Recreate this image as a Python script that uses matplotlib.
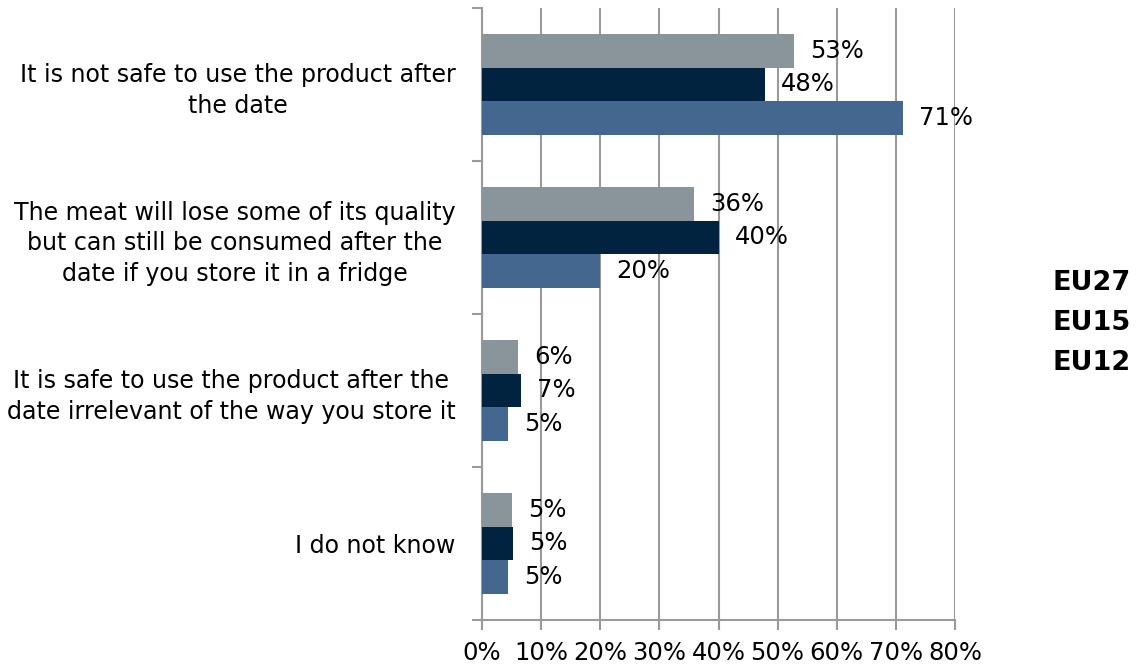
import matplotlib
matplotlib.use("Agg")
import matplotlib.pyplot as plt
import numpy as np
from matplotlib.ticker import FixedLocator, PercentFormatter

categories = [
    "It is not safe to use the product after\nthe date",
    "The meat will lose some of its quality\nbut can still be consumed after the\ndate if you store it in a fridge",
    "It is safe to use the product after the\ndate irrelevant of the way you store it",
    "I do not know",
]
series_names = ["EU27", "EU15", "EU12"]
eu27 = [52.8, 35.9, 6.1, 5.1]
eu15 = [47.9, 40.1, 6.6, 5.2]
eu12 = [71.2, 20.0, 4.4, 4.4]
value_labels = [
    ["53%", "36%", "6%", "5%"],
    ["48%", "40%", "7%", "5%"],
    ["71%", "20%", "5%", "5%"],
]
x_ticks = [0, 10, 20, 30, 40, 50, 60, 70, 80]

colors = ["#89959A", "#01233F", "#43678E"]
grid_color = "#9A9A9A"
fs = 17.5

plt.rcParams["font.family"] = ["DejaVu Sans"]

fig = plt.figure(figsize=(11.36, 6.65), dpi=100)
ax = fig.add_axes([482 / 1136, 1 - 620 / 665, (955 - 482) / 1136, (620 - 8) / 665])

y = np.arange(len(categories))
h = 0.219
series = [eu27, eu15, eu12]
for i, (vals, col) in enumerate(zip(series, colors)):
    bars = ax.barh(y + (i - 1) * h, vals, height=h, color=col, label=series_names[i], zorder=3)
    for b, lab in zip(bars, value_labels[i]):
        ax.annotate(lab, xy=(b.get_width(), b.get_y() + b.get_height() / 2),
                    xytext=(11.5, 0), textcoords="offset points",
                    ha="left", va="center", fontsize=fs, color="black", zorder=4)

ax.set_xlim(0, 80)
ax.set_ylim(3.5, -0.5)
ax.xaxis.set_major_locator(FixedLocator(x_ticks))
ax.xaxis.set_major_formatter(PercentFormatter(decimals=0))
ax.grid(axis="x", color=grid_color, linewidth=1.5, zorder=0)

# category boundaries as major ticks, labels at minor ticks
ax.yaxis.set_major_locator(FixedLocator(np.arange(-0.5, len(categories), 1.0)))
ax.yaxis.set_major_formatter(plt.NullFormatter())
ax.yaxis.set_minor_locator(FixedLocator(y))
ax.set_yticklabels(categories, minor=True, fontsize=17.1, ha="right", multialignment="center", linespacing=1.35)
ax.tick_params(axis="y", which="major", length=7, width=1.5, color=grid_color, direction="out")
ax.tick_params(axis="y", which="minor", length=0, pad=19)
ax.tick_params(axis="x", which="major", length=7, width=1.5, color=grid_color, direction="out", labelsize=fs, pad=8)

for s in ["top", "right"]:
    ax.spines[s].set_visible(False)
for s in ["left", "bottom"]:
    ax.spines[s].set_color(grid_color)
    ax.spines[s].set_linewidth(1.5)
ax.set_axisbelow(True)

leg = ax.legend(loc="center left", bbox_to_anchor=(1028 / 1136, 1 - 323 / 665),
                bbox_transform=fig.transFigure, frameon=False, handlelength=0,
                handletextpad=0, labelspacing=0.5, prop={"weight": "bold", "size": 19.5})
for hdl in leg.legend_handles:
    hdl.set_visible(False)

fig.savefig("out.png", dpi=100)
